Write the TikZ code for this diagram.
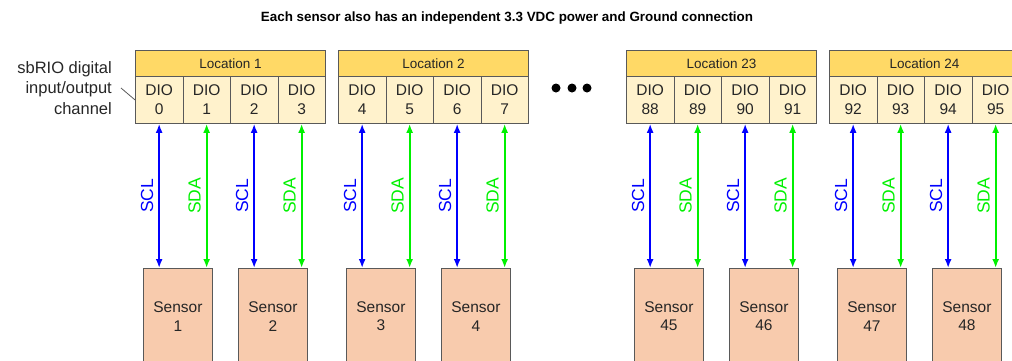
\documentclass[tikz,border=0pt]{standalone}
\usepackage{fontspec}
\setmainfont{Liberation Sans}
\usetikzlibrary{arrows.meta,positioning}

\definecolor{locfill}{HTML}{FFD966}
\definecolor{diofill}{HTML}{FFF2CC}
\definecolor{sensfill}{HTML}{F8CBAD}
\definecolor{edgegray}{HTML}{595959}
\definecolor{txtgray}{HTML}{262626}
\definecolor{sclblue}{HTML}{0000FF}
\definecolor{sdagreen}{HTML}{00F000}

\begin{document}
\begin{tikzpicture}[x=1pt, y=-1pt, >={Latex[length=9pt,width=7pt]},
    loc/.style={draw=edgegray, line width=0.8pt, fill=locfill, anchor=north west,
      minimum width=190pt, minimum height=26pt, inner sep=0pt, text=txtgray,
      font=\fontsize{13.5}{16}\selectfont},
    dio/.style={draw=edgegray, line width=0.8pt, fill=diofill, anchor=north west,
      minimum width=47.5pt, minimum height=47pt, inner sep=0pt, align=center,
      text=txtgray, font=\fontsize{15.5}{19}\selectfont},
    sensor/.style={draw=edgegray, line width=0.8pt, fill=sensfill, anchor=north west,
      minimum width=69pt, minimum height=96pt, inner sep=0pt, align=center,
      text=txtgray, font=\fontsize{15.5}{18.5}\selectfont},
    bus/.style={<->, line width=1.8pt},
    buslabel/.style={midway, sloped, above=5pt, inner sep=0pt,
      font=\fontsize{17.5}{19}\selectfont}]
  % ============================================================
  % 1 px = 1 pt, origin top left, y grows downward
  % ============================================================
  \clip (0,0) rectangle (1012,360);

  % 1. Title
  \node[font=\bfseries\fontsize{13.4}{15}\selectfont] (title) at (507,18)
    {Each sensor also has an independent 3.3 VDC power and Ground connection};

  % 2. Location blocks, DIO channels, sensors and buses
  \foreach \bx/\loc/\dio/\sen [count=\b] in {135/1/0/1, 338/2/4/3, 626/23/88/45, 829/24/92/47}{
    \node[loc] (L\b) at (\bx,50) {Location \loc};
    \foreach \c in {0,...,3}{
      \pgfmathtruncatemacro\n{\dio+\c}
      \node[dio] (D\b\c) at (\bx+47.5*\c,76) {DIO\\\n};
    }
    \foreach \p in {0,1}{
      \pgfmathtruncatemacro\s{\sen+\p}
      \pgfmathtruncatemacro\ck{2*\p}
      \pgfmathtruncatemacro\da{2*\p+1}
      \node[sensor] (S\b\p) at (\bx+8+95*\p,268) {Sensor\\\s};
      % SCL (blau) und SDA (gruen)
      \draw[bus, sclblue] (D\b\ck.south |- S\b\p.north) -- (D\b\ck.south)
        node[buslabel] {SCL};
      \draw[bus, sdagreen] (D\b\da.south |- S\b\p.north) -- (D\b\da.south)
        node[buslabel] {SDA};
    }
  }

  % 3. Ellipsis between Location 2 and Location 23
  \foreach \dx in {556,572,587}
    \fill (\dx,88) circle (4.5pt);

  % 4. Side label with leader line
  \node[anchor=east, align=right, text=txtgray, inner sep=0pt,
        font=\fontsize{16.5}{20.5}\selectfont] (chan) at (112,88)
        {sbRIO digital\\input/output\\channel};
  \coordinate (tick) at (121,88);
  \draw[edgegray, line width=0.8pt] (tick) -- (D10.west);
\end{tikzpicture}
\end{document}
